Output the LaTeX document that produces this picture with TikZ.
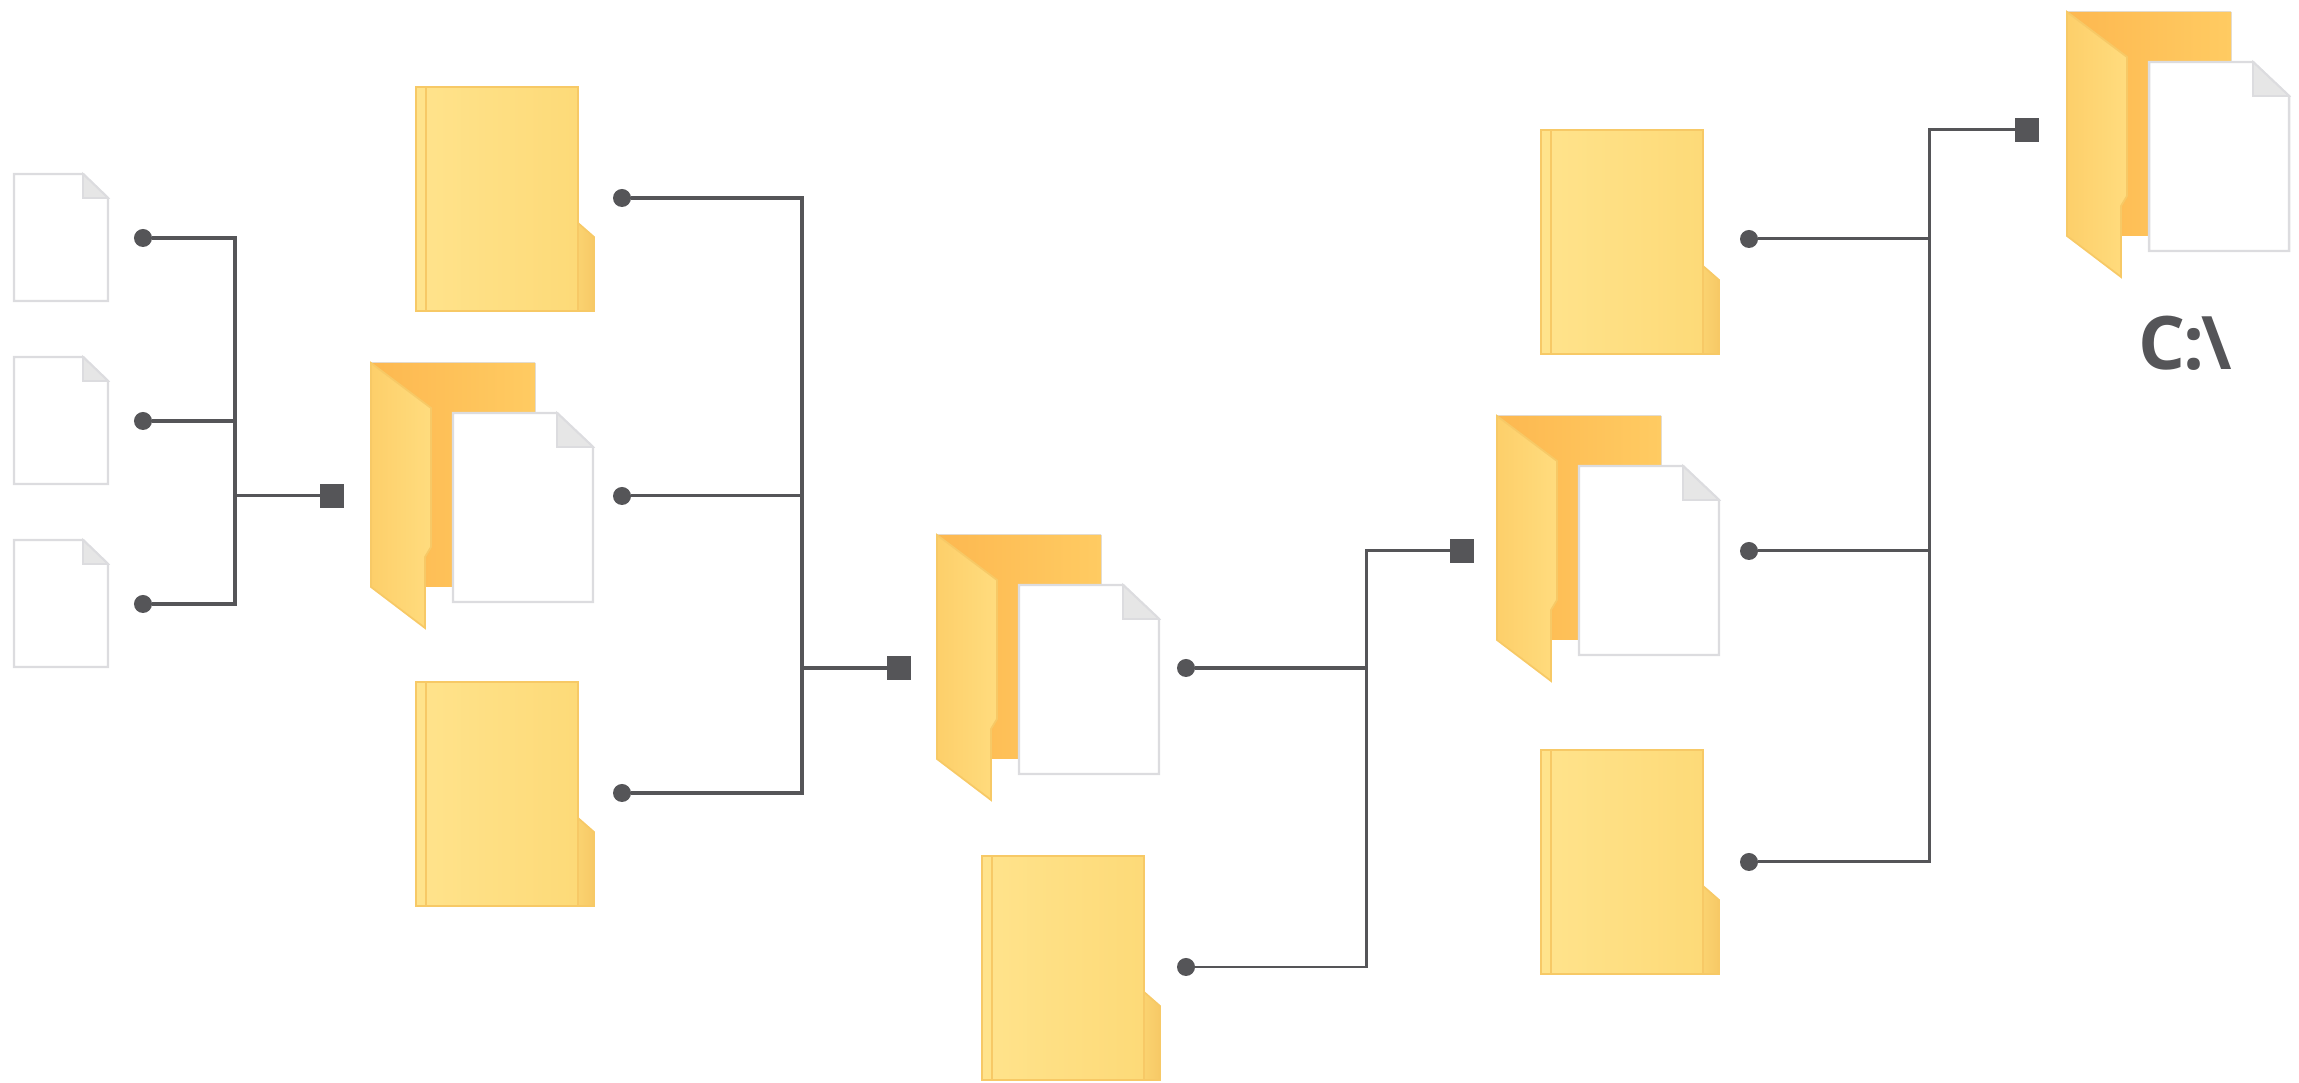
\documentclass[tikz,border=0pt]{standalone}
\usepackage{fontspec}
\setmainfont{Open Sans}
\usepackage{tikz}
\definecolor{linegray}{HTML}{555558}
\definecolor{docedge}{HTML}{DCDCDF}
\definecolor{docfold}{HTML}{E6E6E6}
\definecolor{folderedge}{HTML}{F7C966}
\definecolor{folderlight}{HTML}{FFE38C}
\definecolor{foldermid}{HTML}{FDDA78}
\definecolor{folderdeep}{HTML}{FDB850}
\definecolor{folderback}{HTML}{FFCB62}
\definecolor{flapleft}{HTML}{FDCF6A}
\definecolor{flapright}{HTML}{FFDC7E}

\begin{document}
\begin{tikzpicture}[x=0.01cm,y=-0.01cm]
            \tikzstyle{solid dot}=[circle,fill=linegray,inner sep=0,outer sep=0,minimum size=0.18cm];
            \tikzstyle{solid square}=[rectangle,fill=linegray,inner sep=0,outer sep=0,minimum size=0.24cm];
            \tikzstyle{link}=[draw=linegray,line width=1.1pt,line join=miter];
            \tikzstyle{thin link}=[draw=linegray,line width=0.85pt,line join=miter];
            \tikzstyle{doc}=[draw=docedge,line width=0.7pt,fill=white,line join=miter];
            \tikzstyle{fold}=[draw=docedge,line width=0.5pt,fill=docfold];
            \useasboundingbox (0,0) rectangle (2299,1083);
            % closed folders
            \foreach \x/\y in {416/87,416/682,982/856,1541/130,1541/750} {
              \begin{scope}[shift={(\x,\y)}]
                \draw[folderedge,line width=0.5pt,left color=foldermid,right color=folderedge] (150,130)--(162,136)--(178,150)--(178,224)--(150,224)--cycle;
                \draw[folderedge,line width=0.7pt,left color=folderlight,right color=foldermid] (0,0) rectangle (162,224);
                \draw[folderedge,line width=0.4pt] (10,0)--(10,224);
              \end{scope}
            }
            % open folders with a page
            \foreach \x/\y in {371/363,937/535,1497/416,2067/12} {
              \begin{scope}[shift={(\x,\y)}]
                \fill[left color=folderdeep,right color=folderback] (0,0)--(164,0)--(164,224)--(54,224)--(0,224)--cycle;
                \draw[folderedge,line width=0.5pt,left color=flapleft,right color=flapright] (0,0)--(60,45)--(60,184)--(54,194)--(54,265)--(0,224)--cycle;
                \draw[doc] (82,50)--(186,50)--(222,84)--(222,239)--(82,239)--cycle;
                \draw[fold] (186,50)--(222,84)--(186,84)--cycle;
              \end{scope}
            }
            % small pages
            \foreach \y in {174,357,540} {
              \begin{scope}[shift={(14,\y)}]
                \draw[doc] (0,0)--(69,0)--(94,24)--(94,127)--(0,127)--cycle;
                \draw[fold] (69,0)--(94,24)--(69,24)--cycle;
              \end{scope}
            }
            % ends of the connectors
            \foreach \n/\x/\y in {a1/143/238,a2/143/421,a3/143/604,b1/622/198,b2/622/496,b3/622/793,c1/1186/668,c2/1186/967,e1/1749/239,e2/1749/551,e3/1749/862} \node[solid dot] (\n) at (\x,\y) {};
            \foreach \n/\x/\y in {sa/332/496,sb/899/668,sc/1462/551,se/2027/130} \node[solid square] (\n) at (\x,\y) {};
            \coordinate (ja) at (235,421);
            \coordinate (ta) at (235,496);
            \coordinate (jb) at (802,496);
            \coordinate (tb) at (802,668);
            \coordinate (tc) at (1366,668);
            \coordinate (td) at (1366,551);
            \coordinate (te) at (1929,239);
            \coordinate (tf) at (1929,551);
            \coordinate (tg) at (1929,130);
            % connectors
            \draw[link] (a1) -| (ta) |- (a3);
            \draw[link] (a2) -- (ja);
            \draw[thin link] (ta) -- (sa);
            \draw[link] (b1) -| (tb) |- (b3);
            \draw[thin link] (b2) -- (jb);
            \draw[link] (tb) -- (sb);
            \draw[link] (c1) -- (tc);
            \draw[thin link] (c2) -| (td) -- (sc);
            \draw[thin link] (e1) -- (te);
            \draw[thin link] (e2) -- (tf);
            \draw[thin link] (e3) -| (tg) -- (se);
            \node[text=linegray,font=\bfseries\fontsize{21}{21}\selectfont] (rootlabel) at (2185,343) {C\kern-0.5pt:\kern-1pt\textbackslash};
\end{tikzpicture}
\end{document}
